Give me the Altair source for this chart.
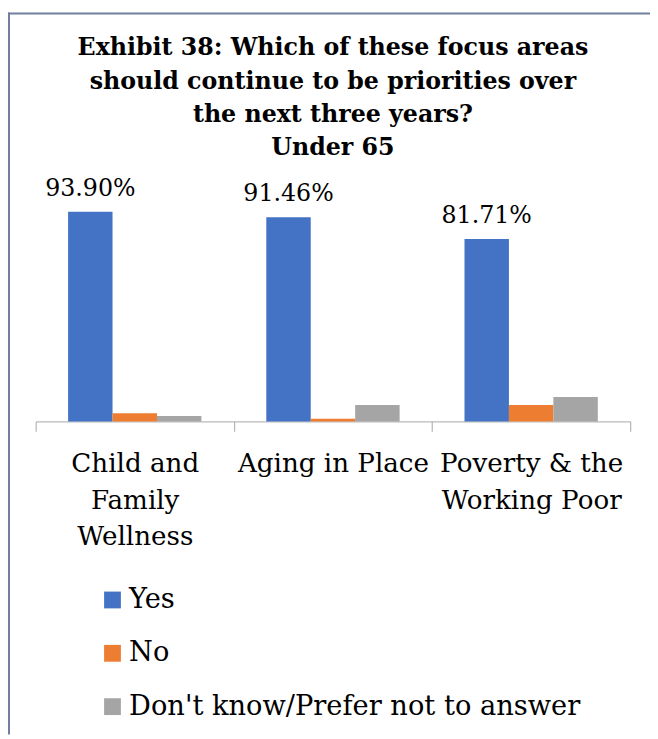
import altair as alt
import pandas as pd

categories = ["Child and Family Wellness", "Aging in Place", "Poverty & the Working Poor"]
category_lines = [["Child and", "Family", "Wellness"], ["Aging in Place"], ["Poverty & the", "Working Poor"]]
series = ["Yes", "No", "Don't know/Prefer not to answer"]
yes_vals = [93.90, 91.46, 81.71]
no_vals = [3.66, 1.22, 7.32]
dk_vals = [2.44, 7.32, 10.98]
colors = ["#4472C4", "#ED7D31", "#A5A5A5"]
title_lines = ["Exhibit 38: Which of these focus areas",
               "should continue to be priorities over",
               "the next three years?",
               "Under 65"]

rows = []
for i, c in enumerate(categories):
    for s, vals in zip(series, [yes_vals, no_vals, dk_vals]):
        rows.append({"category": c, "series": s, "value": vals[i]})
df = pd.DataFrame(rows)

label_expr = " : ".join(
    [f"datum.value == '{c}' ? {lines}" for c, lines in zip(categories, category_lines)]
) + " : datum.value"

FONT = "DejaVu Serif"

x_enc = alt.X("category:N", sort=categories,
              scale=alt.Scale(paddingInner=0, paddingOuter=0),
              axis=alt.Axis(title=None, labelExpr=label_expr, labelAngle=0,
                            labelFont=FONT, labelFontSize=26.5, labelColor="#000000",
                            labelLineHeight=37, labelPadding=20, labelBaseline="top",
                            domainColor="#A6A6A6", tickColor="#A6A6A6", tickSize=10,
                            tickBand="extent", labelLimit=300))
xo_enc = alt.XOffset("series:N", sort=series,
                     scale=alt.Scale(paddingInner=0, paddingOuter=0.73))
y_enc = alt.Y("value:Q", scale=alt.Scale(domain=[0, 100]), axis=None)

bars = alt.Chart(df).mark_bar().encode(
    x=x_enc, xOffset=xo_enc, y=y_enc,
    color=alt.Color("series:N", sort=series,
                    scale=alt.Scale(domain=series, range=colors),
                    legend=alt.Legend(title=None, orient="none", legendX=64, legendY=393,
                                      direction="vertical", symbolType="square",
                                      symbolSize=289, symbolStrokeWidth=0,
                                      labelFont=FONT, labelFontSize=27.6,
                                      labelColor="#000000", labelOffset=3,
                                      rowPadding=25, labelLimit=600)),
)

labels = alt.Chart(df).transform_filter(
    alt.datum.series == "Yes"
).transform_calculate(
    lab="format(datum.value, '.2f') + '%'"
).mark_text(font=FONT, fontSize=24, baseline="alphabetic", dy=-16, color="#000000").encode(
    x=x_enc, xOffset=xo_enc, y=y_enc, text="lab:N"
)

frame_df = pd.DataFrame({"a": [0]})
top_line = alt.Chart(frame_df).mark_rule(color="#6F7F9E", strokeWidth=2).encode(
    x=alt.value(-28), x2=alt.value(630), y=alt.value(-187)
)
left_line = alt.Chart(frame_df).mark_rule(color="#6F7F9E", strokeWidth=2).encode(
    x=alt.value(-27), y=alt.value(-188), y2=alt.value(543)
)

chart = alt.layer(bars, labels, top_line, left_line).properties(
    width=602, height=226,
    title=alt.Title(title_lines, font=FONT, fontSize=24, fontWeight="bold",
                    lineHeight=33.5, anchor="middle", offset=0, dy=169,
                    baseline="alphabetic", frame="group", color="#000000"),
    autosize=alt.AutoSizeParams(type="none"),
    padding={"left": 28, "top": 188, "right": 20, "bottom": 317},
).configure_view(stroke=None)

chart.save("out.html", embed_options={"renderer": "svg", "actions": False})
